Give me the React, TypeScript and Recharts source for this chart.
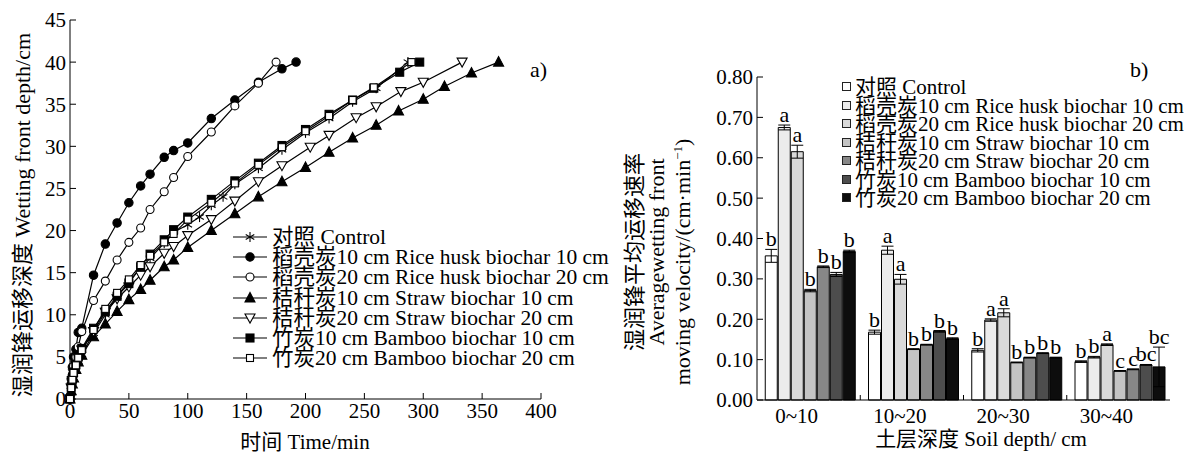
import React from 'react';
import { LineChart, Line, XAxis, YAxis, BarChart, Bar, ErrorBar, LabelList } from 'recharts';

const FONT = '"Liberation Serif", Tinos, "Times New Roman", "DejaVu Serif", serif, "Noto Sans CJK SC"';

// a) wetting front depth (cm) against time (min), pairs [t, d]
const controlPts = [[0, 0], [1, 1.5], [2, 2.2], [3, 2.9], [5, 3.8], [7, 4.5], [10, 5.3], [20, 7.8], [30, 10.0], [40, 12.2], [50, 14.0], [60, 15.5], [68, 16.7], [80, 18.5], [88, 19.8], [100, 20.7], [110, 21.6], [120, 23.0], [130, 24.0], [140, 25.5], [160, 27.4], [180, 29.6], [200, 31.6], [220, 33.3], [240, 35.3], [260, 36.9], [287, 40]];
const riceHusk10Pts = [[0, 0], [1, 2.4], [2, 3.8], [3, 5.0], [5, 5.9], [7, 7.9], [10, 8.4], [20, 14.7], [30, 18.4], [40, 20.9], [50, 23.3], [60, 25.3], [68, 26.7], [80, 28.7], [88, 29.5], [100, 30.4], [120, 33.3], [140, 35.5], [160, 37.6], [180, 39.2], [192, 40]];
const riceHusk20Pts = [[0, 0], [1, 1.8], [2, 2.9], [3, 3.9], [5, 5.0], [7, 6.2], [10, 8.0], [20, 11.7], [30, 14.0], [40, 16.5], [50, 18.6], [60, 20.3], [68, 22.5], [80, 24.6], [88, 26.3], [100, 28.8], [120, 31.7], [140, 34.8], [160, 37.5], [175, 40]];
const straw10Pts = [[0, 0], [1, 1.0], [2, 1.8], [3, 2.5], [5, 3.5], [7, 4.4], [10, 5.2], [20, 7.4], [30, 8.9], [40, 10.4], [50, 11.8], [60, 13.0], [68, 14.1], [80, 15.7], [88, 16.5], [100, 18.0], [120, 20.0], [140, 22.0], [160, 24.0], [180, 25.8], [200, 27.5], [220, 29.3], [240, 31.0], [260, 32.5], [279, 34.2], [300, 35.6], [318, 37.1], [341, 38.7], [364, 40]];
const straw20Pts = [[0, 0], [1, 1.3], [2, 2.2], [3, 3.0], [5, 4.0], [7, 4.9], [10, 5.8], [20, 8.0], [30, 10.3], [40, 11.9], [50, 13.3], [60, 14.7], [68, 15.7], [80, 17.3], [88, 18.1], [100, 19.4], [120, 21.3], [140, 23.5], [160, 25.8], [180, 27.7], [204, 29.9], [220, 31.3], [243, 33.4], [260, 34.7], [281, 36.5], [300, 37.6], [333, 40]];
const bamboo10Pts = [[0, 0], [1, 1.4], [2, 2.4], [3, 3.2], [5, 4.1], [7, 5.0], [10, 6.0], [20, 8.4], [30, 10.4], [40, 12.2], [50, 13.7], [60, 15.7], [68, 17.2], [80, 18.9], [88, 20.1], [100, 21.6], [120, 23.7], [140, 25.9], [160, 28.0], [180, 30.1], [200, 32.0], [220, 33.8], [240, 35.5], [258, 36.9], [280, 38.8], [297, 40]];
const bamboo20Pts = [[0, 0], [1, 1.3], [2, 2.3], [3, 3.1], [5, 4.0], [7, 4.9], [10, 5.8], [20, 8.2], [30, 10.7], [40, 12.6], [50, 14.2], [60, 15.9], [68, 17.0], [80, 18.6], [88, 19.6], [100, 21.3], [120, 23.3], [140, 25.6], [160, 27.8], [180, 29.9], [200, 31.8], [220, 33.6], [240, 35.5], [258, 37.0], [290, 40]];

const timeTicks = [0, 50, 100, 150, 200, 250, 300, 350, 400];
const depthTicks = [0, 5, 10, 15, 20, 25, 30, 35, 40, 45];

const seriesNames = [
  '对照 Control',
  '稻壳炭10 cm Rice husk biochar 10 cm',
  '稻壳炭20 cm Rice husk biochar 20 cm',
  '秸秆炭10 cm Straw biochar 10 cm',
  '秸秆炭20 cm Straw biochar 20 cm',
  '竹炭10 cm Bamboo biochar 10 cm',
  '竹炭20 cm Bamboo biochar 20 cm',
];
const markerTypes = ['star', 'dot', 'ring', 'tri', 'itri', 'sq', 'osq'];
const linePts = [controlPts, riceHusk10Pts, riceHusk20Pts, straw10Pts, straw20Pts, bamboo10Pts, bamboo20Pts];

// b) average wetting front moving velocity (cm/min) by soil layer
const depthLayers = ['0~10', '10~20', '20~30', '30~40'];
const velControl = [0.357, 0.168, 0.123, 0.095];
const velRice10 = [0.675, 0.371, 0.198, 0.106];
const velRice20 = [0.615, 0.299, 0.216, 0.137];
const velStraw10 = [0.271, 0.126, 0.093, 0.072];
const velStraw20 = [0.330, 0.137, 0.105, 0.076];
const velBamboo10 = [0.311, 0.170, 0.116, 0.087];
const velBamboo20 = [0.368, 0.152, 0.105, 0.082];
const errControl = [0.016, 0.005, 0.004, 0.002];
const errRice10 = [0.006, 0.010, 0.003, 0.002];
const errRice20 = [0.016, 0.012, 0.010, 0.002];
const errStraw10 = [0.003, 0.001, 0.001, 0.001];
const errStraw20 = [0.002, 0.001, 0.001, 0.001];
const errBamboo10 = [0.005, 0.002, 0.001, 0.001];
const errBamboo20 = [0.003, 0.002, 0.001, 0.049];
const letControl = ['b', 'b', 'b', 'b'];
const letRice10 = ['a', 'a', 'a', 'b'];
const letRice20 = ['a', 'a', 'a', 'a'];
const letStraw10 = ['b', 'b', 'b', 'c'];
const letStraw20 = ['b', 'b', 'b', 'c'];
const letBamboo10 = ['b', 'b', 'b', 'bc'];
const letBamboo20 = ['b', 'b', 'b', 'bc'];
const velTicks = [0, 0.1, 0.2, 0.3, 0.4, 0.5, 0.6, 0.7, 0.8];

const barFills = ['#ffffff', '#ececec', '#d9d9d9', '#c4c4c4', '#878787', '#4d4d4d', '#0d0d0d'];
const barVals = [velControl, velRice10, velRice20, velStraw10, velStraw20, velBamboo10, velBamboo20];
const barErrs = [errControl, errRice10, errRice20, errStraw10, errStraw20, errBamboo10, errBamboo20];
const barLets = [letControl, letRice10, letRice20, letStraw10, letStraw20, letBamboo10, letBamboo20];

const barData = depthLayers.map((name, i) => {
  const row: any = { name };
  barVals.forEach((v, k) => {
    row['v' + k] = v[i];
    row['e' + k] = barErrs[k][i];
    row['l' + k] = barLets[k][i];
  });
  return row;
});

function Marker({ type, cx, cy }: { type: string; cx: number; cy: number }) {
  const st = { stroke: '#000', strokeWidth: 1.1 };
  switch (type) {
    case 'star':
      return (
        <g {...st}>
          <line x1={cx} y1={cy - 5} x2={cx} y2={cy + 5} />
          <line x1={cx - 4.3} y1={cy - 2.5} x2={cx + 4.3} y2={cy + 2.5} />
          <line x1={cx - 4.3} y1={cy + 2.5} x2={cx + 4.3} y2={cy - 2.5} />
        </g>
      );
    case 'dot':
      return <circle cx={cx} cy={cy} r={4.2} fill="#000" {...st} />;
    case 'ring':
      return <circle cx={cx} cy={cy} r={4} fill="#fff" {...st} />;
    case 'tri':
      return <polygon points={`${cx},${cy - 5.5} ${cx - 5},${cy + 4} ${cx + 5},${cy + 4}`} fill="#000" {...st} />;
    case 'itri':
      return <polygon points={`${cx - 5},${cy - 4} ${cx + 5},${cy - 4} ${cx},${cy + 5}`} fill="#fff" {...st} />;
    case 'sq':
      return <rect x={cx - 4} y={cy - 4} width={8} height={8} fill="#000" {...st} />;
    default:
      return <rect x={cx - 3.5} y={cy - 3.5} width={7} height={7} fill="#fff" {...st} />;
  }
}

const tickStyle = { fontSize: 21, fill: '#000', fontFamily: FONT };

function LetterLabel(k: number) {
  return (p: any) => {
    const { x, y, width, height, value, index } = p;
    const v = barVals[k][index];
    const errPx = v > 0 ? (barErrs[k][index] * height) / v : 0;
    return (
      <text x={x + width / 2} y={y - errPx - 3} textAnchor="middle" fontSize={22} fontFamily={FONT} fill="#000">
        {value}
      </text>
    );
  };
}

function CategoryTick(p: any) {
  const { x, y, payload, index } = p;
  const half = payload.offset || 0;
  return (
    <g>
      <text x={x - 12} y={y} dy={15} textAnchor="middle" fontSize={21} fontFamily={FONT} fill="#000">
        {payload.value}
      </text>
      {index < depthLayers.length - 1 && (
        <line x1={x + half} x2={x + half} y1={y - 8} y2={y - 13} stroke="#000" />
      )}
    </g>
  );
}

const abs = (left: number, top: number, extra: any = {}) => ({
  position: 'absolute' as const,
  left,
  top,
  whiteSpace: 'nowrap' as const,
  ...extra,
});

export default function App() {
  return (
    <div style={{ position: 'absolute', left: 0, top: 0, width: 1197, height: 454, background: '#fff', fontFamily: FONT, color: '#000', overflow: 'hidden' }}>
      <div style={abs(0, 0)}>
        <LineChart width={600} height={454} margin={{ top: 20, right: 59, left: 30, bottom: 25 }}>
          <XAxis
            dataKey="t"
            type="number"
            domain={[0, 400]}
            ticks={timeTicks}
            tick={tickStyle}
            tickSize={-6}
            tickMargin={10}
            stroke="#000"
            height={30}
            allowDuplicatedCategory={false}
          />
          <YAxis
            dataKey="d"
            type="number"
            domain={[0, 45]}
            ticks={depthTicks}
            tick={tickStyle}
            tickSize={-6}
            tickMargin={10}
            stroke="#000"
            width={40}
          />
          {linePts.map((pts, k) => (
            <Line
              key={k}
              data={pts.map(([t, d]) => ({ t, d }))}
              dataKey="d"
              stroke="#000"
              strokeWidth={1.2}
              isAnimationActive={false}
              dot={(p: any) => <Marker key={`${k}-${p.index}`} type={markerTypes[k]} cx={p.cx} cy={p.cy} />}
              activeDot={false}
            />
          ))}
        </LineChart>
      </div>

      <div style={abs(20, 215, { transform: 'translate(-50%, -50%) rotate(-90deg)', fontSize: 22 })}>
        湿润锋运移深度 Wetting front depth/cm
      </div>
      <div style={abs(305, 440, { transform: 'translate(-50%, -50%)', fontSize: 21 })}>时间 Time/min</div>
      <div style={abs(530, 57, { fontSize: 22 })}>a)</div>

      <div style={abs(232, 227, { fontSize: 21.5, lineHeight: '20.2px' })}>
        {seriesNames.map((n, k) => (
          <div key={k} style={{ display: 'flex', alignItems: 'center', height: 20.2 }}>
            <svg width={36} height={20} style={{ marginRight: 4 }}>
              <line x1={1} x2={35} y1={10} y2={10} stroke="#000" strokeWidth={1.2} />
              <Marker type={markerTypes[k]} cx={18} cy={10} />
            </svg>
            <span>{n}</span>
          </div>
        ))}
      </div>

      <div style={abs(600, 0)}>
        <BarChart width={597} height={454} data={barData} margin={{ top: 77, right: 27, left: 100, bottom: 24 }} barCategoryGap="8%" barGap={1}>
          <XAxis dataKey="name" tickLine={false} tickSize={0} tickMargin={8} tick={<CategoryTick />} stroke="#000" height={30} />
          <YAxis
            type="number"
            domain={[0, 0.8]}
            ticks={velTicks}
            tickFormatter={(v: number) => v.toFixed(2)}
            tick={tickStyle}
            tickSize={-6}
            tickMargin={10}
            stroke="#000"
            width={57}
          />
          {barVals.map((_, k) => (
            <Bar key={k} dataKey={'v' + k} fill={barFills[k]} stroke="#000" strokeWidth={1} isAnimationActive={false}>
              <ErrorBar dataKey={'e' + k} width={6} stroke="#000" strokeWidth={1} />
              <LabelList dataKey={'l' + k} content={LetterLabel(k)} />
            </Bar>
          ))}
        </BarChart>
      </div>

      <div style={abs(632, 252, { transform: 'translate(-50%, -50%) rotate(-90deg)', fontSize: 22 })}>湿润锋平均运移速率</div>
      <div style={abs(657, 252, { transform: 'translate(-50%, -50%) rotate(-90deg)', fontSize: 22 })}>Averagewetting front</div>
      <div style={abs(683, 262, { transform: 'translate(-50%, -50%) rotate(-90deg)', fontSize: 22 })}>
        moving velocity/(cm·min<sup style={{ fontSize: 13 }}>−1</sup>)
      </div>
      <div style={abs(981, 437, { transform: 'translate(-50%, -50%)', fontSize: 21 })}>土层深度 Soil depth/ cm</div>
      <div style={abs(1130, 57, { fontSize: 22 })}>b)</div>

      <div style={abs(841, 78, { fontSize: 21, lineHeight: '18.5px' })}>
        {seriesNames.map((n, k) => (
          <div key={k} style={{ display: 'flex', alignItems: 'center', height: 18.5 }}>
            <svg width={12} height={12} style={{ marginRight: 2 }}>
              <rect x={1.5} y={1.5} width={8} height={8} fill={barFills[k]} stroke="#222" strokeWidth={1} />
            </svg>
            <span>{n}</span>
          </div>
        ))}
      </div>
    </div>
  );
}
